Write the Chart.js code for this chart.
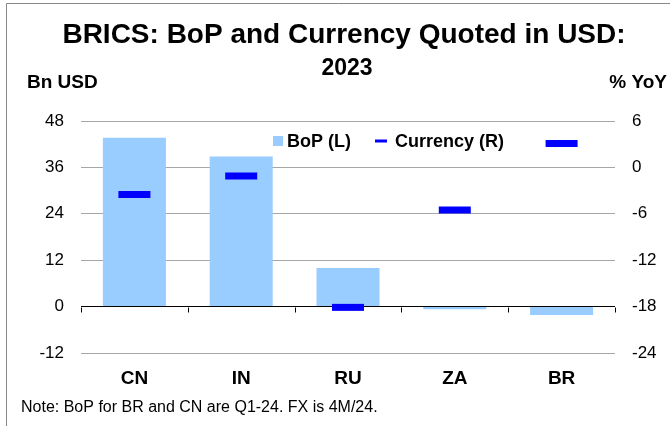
<!DOCTYPE html>
<html>
<head>
<meta charset="utf-8">
<script src="https://cdn.jsdelivr.net/npm/chart.js@4.4.1/dist/chart.umd.min.js"></script>
<style>
  html, body { margin: 0; padding: 0; background: #fff; }
  #wrap { position: relative; width: 670px; height: 426px; }
</style>
</head>
<body>
<div id="wrap"><canvas id="chart" width="670" height="426"></canvas></div>
<script>
// Data
const categories = ['CN', 'IN', 'RU', 'ZA', 'BR'];
const bopValues = [43.7, 38.8, 10.0, -0.7, -2.2];      // Bn USD, left axis
const currencyValues = [-3.5, -1.1, -18.1, -5.5, 3.1]; // % YoY, right axis
const leftTicks = [-12, 0, 12, 24, 36, 48];
const rightTicks = [-24, -18, -12, -6, 0, 6];

const FONT = '"Liberation Sans", Arial, sans-serif';
const BAR_COLOR = '#99ccff';
const MARK_COLOR = '#0000ff';

// texts, frame, legend and the small ticks on the zero line
const decorPlugin = {
    id: 'decor',
    beforeDraw(chart) {
        const ctx = chart.ctx;
        ctx.save();
        ctx.strokeStyle = '#888';
        ctx.lineWidth = 1;
        ctx.beginPath();
        ctx.moveTo(6.5, 426);
        ctx.lineTo(6.5, 3.5);
        ctx.lineTo(670, 3.5);
        ctx.stroke();
        ctx.restore();
    },
    afterDatasetsDraw(chart) {
        const ctx = chart.ctx;
        const x = chart.scales.x;
        const y = chart.scales.y;
        const zeroY = Math.round(y.getPixelForValue(0)) + 0.5;
        const step = x.width / categories.length;
        ctx.save();
        ctx.strokeStyle = '#000';
        ctx.lineWidth = 1;
        ctx.beginPath();
        for (let i = 0; i <= categories.length; i++) {
            const px = Math.round(x.left + i * step) + 0.5;
            ctx.moveTo(px, zeroY);
            ctx.lineTo(px, zeroY + 5);
        }
        ctx.stroke();
        ctx.restore();
    },
    afterDraw(chart) {
        const ctx = chart.ctx;
        ctx.save();
        ctx.fillStyle = '#000';
        ctx.textBaseline = 'alphabetic';

        ctx.textAlign = 'center';
        ctx.font = 'bold 28px ' + FONT;
        ctx.fillText('BRICS: BoP and Currency Quoted in USD:', 344, 43);
        ctx.font = 'bold 23px ' + FONT;
        ctx.fillText('2023', 347, 75);

        ctx.font = 'bold 19px ' + FONT;
        ctx.textAlign = 'left';
        ctx.fillText('Bn USD', 27, 88);
        ctx.textAlign = 'right';
        ctx.fillText('% YoY', 667, 88);

        ctx.font = '16px ' + FONT;
        ctx.textAlign = 'left';
        ctx.fillText('Note: BoP for BR and CN are Q1-24. FX is 4M/24.', 21, 412);

        // legend
        const sets = chart.data.datasets;
        ctx.font = 'bold 18px ' + FONT;
        let lx = 273;
        const ly = 147;
        ctx.fillStyle = BAR_COLOR;
        ctx.fillRect(lx, 136, 10, 10);
        ctx.fillStyle = '#000';
        ctx.fillText(sets[0].label, lx + 14, ly);
        lx = 375;
        ctx.strokeStyle = MARK_COLOR;
        ctx.lineWidth = 3;
        ctx.beginPath();
        ctx.moveTo(lx, 141);
        ctx.lineTo(lx + 12, 141);
        ctx.stroke();
        ctx.fillText(sets[1].label, lx + 20, ly);
        ctx.restore();
    }
};

new Chart(document.getElementById('chart'), {
    type: 'bar',
    data: {
        labels: categories,
        datasets: [
            {
                label: 'BoP (L)',
                data: bopValues,
                yAxisID: 'y',
                backgroundColor: BAR_COLOR,
                borderWidth: 0,
                barPercentage: 0.59,
                categoryPercentage: 1.0,
                order: 1
            },
            {
                type: 'line',
                label: 'Currency (R)',
                data: currencyValues,
                yAxisID: 'y1',
                showLine: false,
                pointStyle: 'line',
                pointRadius: 16,
                pointHoverRadius: 16,
                pointBorderWidth: 7,
                pointHoverBorderWidth: 7,
                borderColor: MARK_COLOR,
                backgroundColor: MARK_COLOR,
                order: 0
            }
        ]
    },
    options: {
        responsive: false,
        animation: false,
        events: [],
        layout: { padding: { top: 121, left: 0, right: 0, bottom: 0 } },
        plugins: {
            legend: { display: false },
            title: { display: false },
            tooltip: { enabled: false }
        },
        scales: {
            x: {
                offset: true,
                grid: { display: false, drawTicks: false },
                border: { display: false },
                ticks: {
                    color: '#000',
                    padding: 14,
                    font: { family: FONT, size: 19, weight: 'bold' }
                },
                afterFit(scale) { scale.height = 73; }
            },
            y: {
                position: 'left',
                min: -12,
                max: 48,
                afterBuildTicks(scale) { scale.ticks = leftTicks.map(v => ({ value: v })); },
                grid: {
                    drawTicks: false,
                    color: ctx => (ctx.tick && ctx.tick.value === 0 ? '#000' : '#a6a6a6'),
                    lineWidth: 1
                },
                border: { display: false },
                ticks: {
                    color: '#000',
                    padding: 17,
                    font: { family: FONT, size: 17 }
                },
                afterFit(scale) { scale.width = 81; }
            },
            y1: {
                position: 'right',
                min: -24,
                max: 6,
                afterBuildTicks(scale) { scale.ticks = rightTicks.map(v => ({ value: v })); },
                grid: { drawOnChartArea: false, drawTicks: false },
                border: { display: false },
                ticks: {
                    color: '#000',
                    padding: 17,
                    font: { family: FONT, size: 17 }
                },
                afterFit(scale) { scale.width = 55; }
            }
        }
    },
    plugins: [decorPlugin]
});
</script>
</body>
</html>
